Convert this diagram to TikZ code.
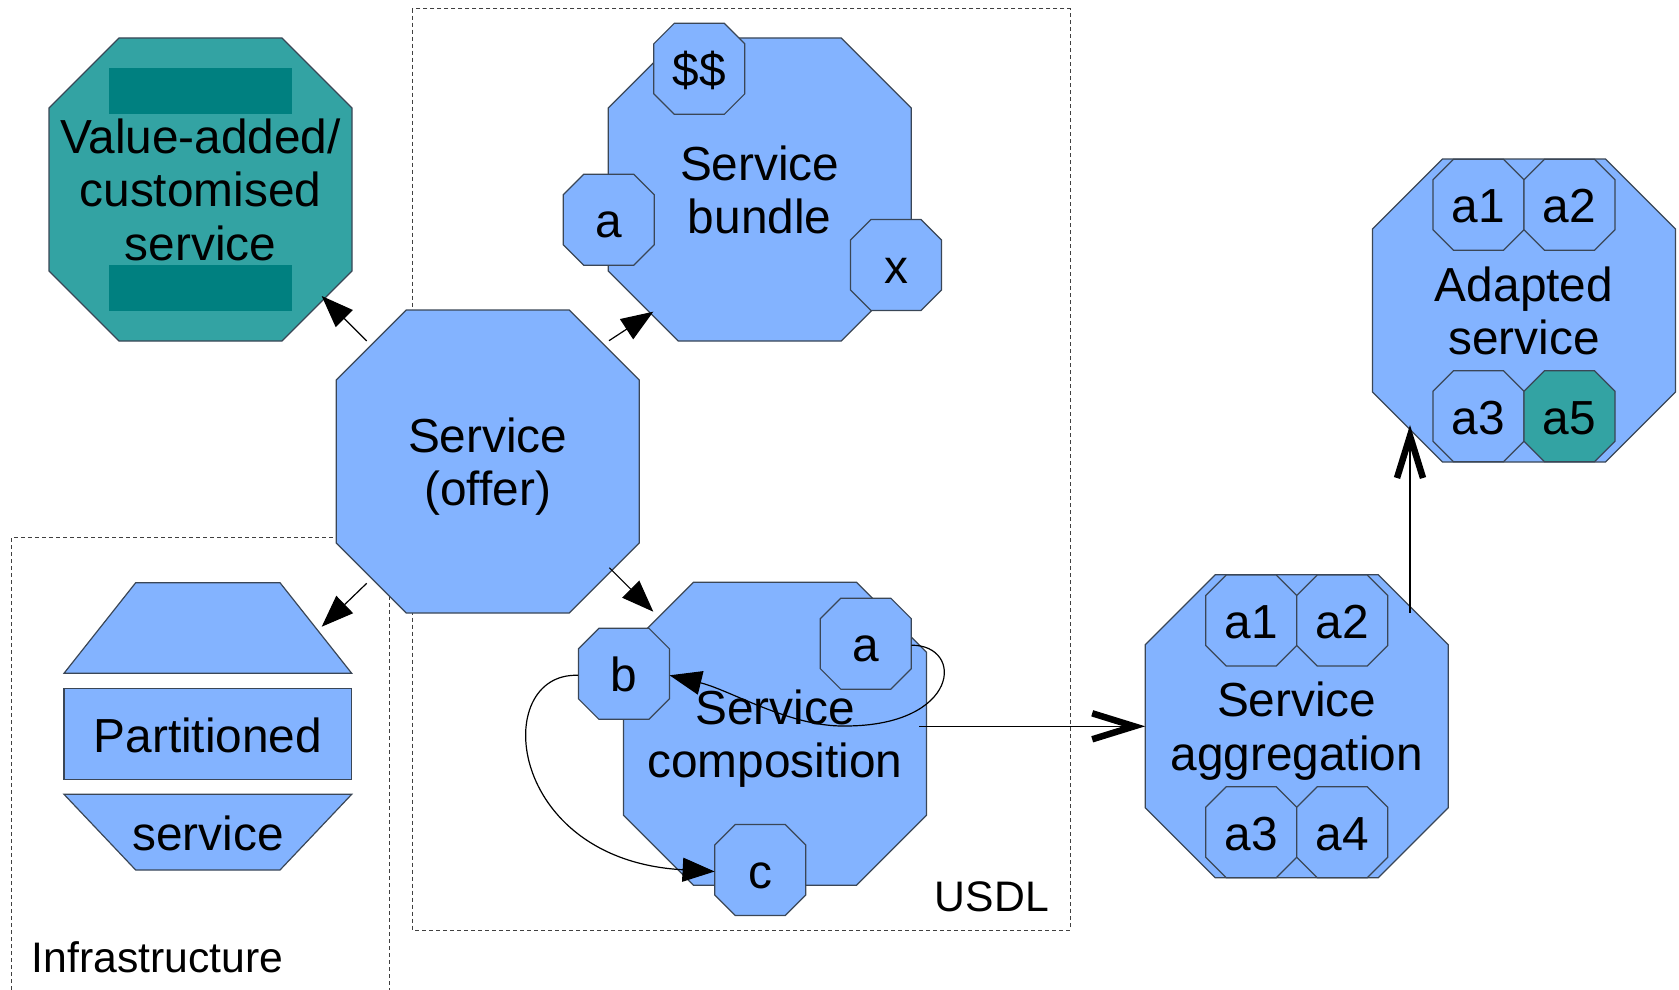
\documentclass[tikz,border=0pt]{standalone}
\usepackage{fontspec}
\setmainfont{Liberation Sans}
\usetikzlibrary{arrows.meta}

\definecolor{svcblue}{HTML}{83B3FF}
\definecolor{svcteal}{HTML}{33A3A3}
\definecolor{darkteal}{HTML}{008080}
\definecolor{edgegray}{HTML}{3A4656}

\newcommand{\lstrut}{\rule[-0.212em]{0pt}{1.117em}}
% octagon: centre x, centre y, half size, cut, fill
\newcommand{\octo}[5]{%
  \filldraw[octline,fill=#5] ({#1-#3+#4},{#2-#3}) -- ({#1+#3-#4},{#2-#3})
    -- ({#1+#3},{#2-#3+#4}) -- ({#1+#3},{#2+#3-#4})
    -- ({#1+#3-#4},{#2+#3}) -- ({#1-#3+#4},{#2+#3})
    -- ({#1-#3},{#2+#3-#4}) -- ({#1-#3},{#2-#3+#4}) -- cycle;}

\begin{document}
\begin{tikzpicture}[x=1pt,y=-1pt,
    octline/.style={draw=edgegray,line width=1.2pt},
    lbl/.style={font=\fontsize{47.8}{53.5}\selectfont,align=center,inner sep=0pt,
      execute at begin node=\lstrut,execute at end node=\lstrut},
    biglbl/.style={lbl,minimum width=303pt,minimum height=303pt,yshift=-5pt},
    smalllbl/.style={lbl,minimum width=91pt,minimum height=91pt,yshift=-1.5pt},
    arealbl/.style={font=\fontsize{42.7}{48}\selectfont,inner sep=0pt},
    areabox/.style={draw=black!75,line width=1pt,dash pattern=on 4pt off 3pt},
    arr/.style={line width=1.2pt,-{Triangle[length=32pt,width=24pt]}},
    openarr/.style={line width=1.2pt,-{Straight Barb[length=42pt,width=26pt,line width=6.5pt]}}]

  \useasboundingbox (0,0) rectangle (1679,990);

  % areas
  \draw[areabox] (11.7,990) -- (11.7,537.3) -- (389,537.3) -- (389,990);
  \draw[areabox] (412.3,8.7) rectangle (1070,930);
  \node[arealbl,anchor=base west] (infra) at (31.7,972.7) {Infrastructure};
  \node[arealbl,anchor=base east] (usdl) at (1049,911.7) {USDL};

  % value-added service
  \octo{200.5}{189.5}{151.5}{70}{svcteal}
  \fill[darkteal] (109,68) rectangle (292,114);
  \fill[darkteal] (109,265) rectangle (292,311);
  \node[biglbl] (va) at (200.5,189.5) {Value-added/\\customised\\service};

  % partitioned service
  \filldraw[octline,fill=svcblue] (135.7,582.7) -- (280,582.7) -- (351.7,673.3) -- (64,673.3) -- cycle;
  \filldraw[octline,fill=svcblue] (64,688.3) rectangle (351.7,779.3);
  \filldraw[octline,fill=svcblue] (64,794.3) -- (351.7,794.3) -- (280,870) -- (135.7,870) -- cycle;
  \node[lbl,yshift=-2pt] (part) at (207.9,733.8) {Partitioned};
  \node[lbl,yshift=-2pt] (partsvc) at (207.9,832) {service};

  % service offer
  \octo{487.7}{461.5}{151.5}{70}{svcblue}
  \node[biglbl] (offer) at (487.7,461.5) {Service\\(offer)};

  % bundle
  \octo{759.7}{189.5}{151.5}{70}{svcblue}
  \node[biglbl] (bundle) at (759.7,189.5) {Service\\bundle};
  \octo{699.3}{68.8}{45.5}{20.5}{svcblue}
  \node[smalllbl] (bprice) at (699.3,68.8) {\$\$};
  \octo{608.7}{219.8}{45.5}{20.5}{svcblue}
  \node[smalllbl] (ba) at (608.7,219.8) {a};
  \octo{896}{265}{45.5}{20.5}{svcblue}
  \node[smalllbl] (bx) at (896,265) {x};

  % composition
  \octo{775}{733.8}{151.5}{70}{svcblue}
  \node[biglbl] (comp) at (775,733.8) {Service\\composition};
  \octo{623.9}{673.8}{45.5}{20.5}{svcblue}
  \node[smalllbl] (cb) at (623.9,673.8) {b};
  \octo{865.8}{643.7}{45.5}{20.5}{svcblue}
  \node[smalllbl] (ca) at (865.8,643.7) {a};
  \octo{760.3}{870}{45.5}{20.5}{svcblue}
  \node[smalllbl] (cc) at (760.3,870) {c};

  % aggregation
  \octo{1296.7}{726.3}{151.5}{70}{svcblue}
  \node[biglbl] (agg) at (1296.7,726.3) {Service\\aggregation};
  \octo{1251.2}{620.5}{45.5}{20.5}{svcblue}
  \node[smalllbl] (ga1) at (1251.2,620.5) {a1};
  \octo{1342.2}{620.5}{45.5}{20.5}{svcblue}
  \node[smalllbl] (ga2) at (1342.2,620.5) {a2};
  \octo{1251.2}{832.2}{45.5}{20.5}{svcblue}
  \node[smalllbl] (ga3) at (1251.2,832.2) {a3};
  \octo{1342.2}{832.2}{45.5}{20.5}{svcblue}
  \node[smalllbl] (ga4) at (1342.2,832.2) {a4};

  % adapted
  \octo{1524}{310.5}{151.5}{70}{svcblue}
  \node[biglbl] (adapt) at (1524,310.5) {Adapted\\service};
  \octo{1478.5}{204.8}{45.5}{20.5}{svcblue}
  \node[smalllbl] (da1) at (1478.5,204.8) {a1};
  \octo{1569.5}{204.8}{45.5}{20.5}{svcblue}
  \node[smalllbl] (da2) at (1569.5,204.8) {a2};
  \octo{1478.5}{416.2}{45.5}{20.5}{svcblue}
  \node[smalllbl] (da3) at (1478.5,416.2) {a3};
  \octo{1569.5}{416.2}{45.5}{20.5}{svcteal}
  \node[smalllbl] (da5) at (1569.5,416.2) {a5};

  % connector ends
  \coordinate (offer-nw) at (366.7,341);
  \coordinate (va-in) at (321.7,296);
  \coordinate (offer-ne) at (609,340.7);
  \coordinate (bundle-in) at (653.3,311.7);
  \coordinate (offer-sw) at (366.7,583.3);
  \coordinate (part-in) at (321.7,626.7);
  \coordinate (offer-se) at (609.3,567.7);
  \coordinate (comp-in) at (653.3,611.7);
  \coordinate (comp-out) at (919,726.3);
  \coordinate (agg-in) at (1145.2,726.3);
  \coordinate (agg-out) at (1410,612.7);
  \coordinate (adapt-in) at (1410,425);

  \draw[arr] (offer-nw) -- (va-in);
  \draw[arr] (offer-ne) -- (bundle-in);
  \draw[arr] (offer-sw) -- (part-in);
  \draw[arr] (offer-se) -- (comp-in);
  \draw[openarr] (comp-out) -- (agg-in);
  \draw[openarr] (agg-out) -- (adapt-in);

  \draw[arr] (ca.east) .. controls (965,645) and (960,726) .. (845,726)
    .. controls (790,727) and (730,690) .. (cb.east);
  \draw[arr] (cb.west) .. controls (490,672) and (505,860) .. (cc.west);

\end{tikzpicture}
\end{document}
